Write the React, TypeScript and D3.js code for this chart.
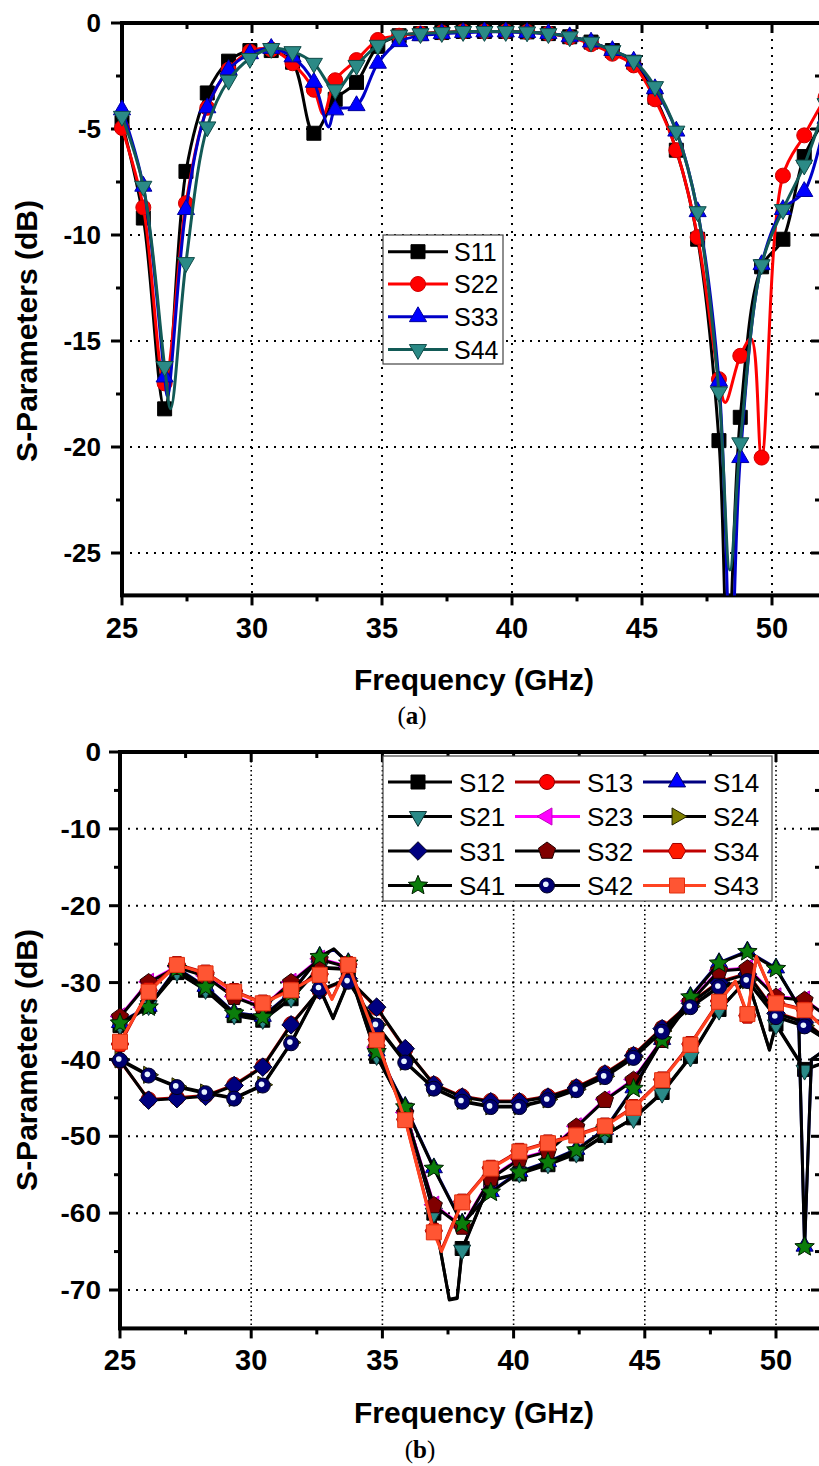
import React from "react";
import * as d3 from "d3";

type Pt = [number, number];

// ---------------- Panel (a): reflection coefficients ----------------
const freqA = [25.0, 25.82, 26.64, 27.46, 28.28, 29.1, 29.92, 30.74, 31.56, 32.38, 33.2, 34.02, 34.84, 35.66, 36.48, 37.3, 38.12, 38.94, 39.76, 40.58, 41.4, 42.22, 43.04, 43.86, 44.68, 45.5, 46.32, 47.14, 47.96, 48.78, 49.6, 50.42, 51.24, 52.06];
const s11 = [-4.7, -9.2, -18.2, -7.0, -3.3, -1.8, -1.3, -1.3, -1.85, -5.2, -3.6, -2.8, -1.1, -0.6, -0.5, -0.45, -0.4, -0.4, -0.4, -0.42, -0.5, -0.65, -0.9, -1.3, -1.85, -3.5, -6.0, -10.2, -19.7, -18.6, -11.5, -10.2, -6.3, -4.5];
const s22 = [-4.95, -8.7, -17.0, -8.5, -4.0, -2.2, -1.35, -1.25, -1.9, -3.15, -2.7, -1.75, -0.8, -0.6, -0.5, -0.45, -0.4, -0.4, -0.4, -0.42, -0.5, -0.68, -1.0, -1.45, -2.0, -3.6, -6.0, -10.1, -16.8, -15.7, -20.5, -7.2, -5.3, -3.5];
const s33 = [-4.1, -7.7, -16.7, -8.8, -4.0, -2.2, -1.45, -1.2, -1.6, -2.8, -4.1, -3.9, -1.9, -0.88, -0.6, -0.5, -0.45, -0.42, -0.42, -0.45, -0.5, -0.65, -0.9, -1.3, -1.8, -3.1, -5.1, -8.9, -16.9, -20.5, -11.4, -8.8, -7.95, -4.5];
const s44 = [-4.4, -7.7, -16.2, -11.3, -4.9, -2.7, -1.67, -1.2, -1.35, -1.9, -3.15, -2.0, -1.05, -0.57, -0.5, -0.45, -0.4, -0.4, -0.4, -0.42, -0.5, -0.65, -0.9, -1.3, -1.78, -3.0, -5.1, -8.9, -17.4, -19.8, -11.4, -8.8, -6.7, -3.8];
// line-only points between symbols (sharp resonances)
const s11Extra: Pt[] = [[48.3, -30]];
const s22Extra: Pt[] = [[32.75, -4.3], [48.2, -17.9], [49.2, -14.9]];
const s33Extra: Pt[] = [[26.75, -17.6], [32.95, -4.9], [48.42, -30]];
const s44Extra: Pt[] = [[26.87, -18.2], [48.38, -25.8]];
const namesA = ["S11", "S22", "S33", "S44"];
const xTicksA = [25, 30, 35, 40, 45, 50];
const yTicksA = [0, -5, -10, -15, -20, -25];

// ---------------- Panel (b): transmission coefficients ----------------
const freqB = [25.0, 26.09, 27.17, 28.26, 29.35, 30.44, 31.52, 32.61, 33.7, 34.78, 35.87, 36.96, 38.04, 39.13, 40.22, 41.31, 42.39, 43.48, 44.57, 45.66, 46.74, 47.83, 48.91, 50.0, 51.09, 52.18];
const s12 = [-35.6, -33.1, -28.7, -31.0, -34.3, -34.9, -32.1, -28.1, -28.3, -39.6, -46.6, -60.0, -64.6, -55.8, -54.9, -53.7, -52.3, -49.9, -47.6, -44.3, -39.6, -33.5, -29.6, -35.4, -41.3, -40.0];
const s13 = [-40.2, -45.2, -45.0, -44.7, -43.3, -40.9, -35.4, -31.1, -29.6, -33.3, -38.7, -43.2, -44.8, -45.4, -45.4, -44.8, -43.6, -41.8, -39.4, -35.9, -32.6, -29.9, -28.8, -33.9, -35.1, -38.0];
const s14 = [-35.2, -33.1, -28.1, -30.5, -33.9, -34.4, -31.3, -26.6, -27.4, -38.9, -46.1, -54.1, -61.3, -57.2, -54.6, -53.3, -51.7, -49.1, -43.7, -37.4, -31.8, -27.4, -25.9, -28.1, -64.3, -38.0];
const s21 = [-35.5, -33.0, -28.6, -30.9, -34.2, -34.8, -32.0, -28.0, -28.2, -39.5, -46.5, -60.0, -64.8, -55.7, -54.8, -53.6, -52.2, -49.8, -47.7, -44.4, -39.7, -33.6, -29.5, -35.5, -41.4, -40.0];
const s23 = [-34.4, -29.9, -27.9, -29.1, -31.8, -33.2, -29.9, -26.9, -27.9, -38.4, -46.9, -58.9, -61.7, -55.4, -52.9, -51.9, -48.7, -45.2, -42.6, -37.4, -32.4, -28.4, -28.1, -31.8, -32.2, -35.0];
const s24 = [-40.0, -42.0, -43.5, -44.3, -45.0, -43.3, -37.8, -30.7, -29.8, -35.5, -40.3, -43.7, -45.4, -46.1, -46.1, -45.2, -43.9, -42.2, -39.7, -36.3, -33.1, -30.5, -29.7, -34.4, -35.6, -38.0];
const s31 = [-40.1, -45.3, -45.1, -44.8, -43.4, -41.0, -35.5, -31.0, -29.5, -33.2, -38.6, -43.3, -44.9, -45.5, -45.5, -44.9, -43.7, -41.9, -39.5, -36.0, -32.7, -30.0, -28.9, -34.0, -35.2, -38.0];
const s32 = [-34.5, -30.0, -28.0, -29.2, -31.9, -33.3, -30.0, -27.0, -28.0, -38.5, -47.0, -59.0, -61.8, -55.5, -53.0, -52.0, -48.8, -45.3, -42.7, -37.5, -32.5, -28.5, -28.2, -31.9, -32.3, -35.0];
const s34 = [-38.0, -31.0, -27.6, -28.7, -31.1, -32.6, -30.9, -28.9, -27.6, -37.4, -47.8, -62.3, -58.5, -54.1, -51.9, -50.8, -49.8, -48.6, -46.2, -42.6, -38.0, -32.4, -34.3, -32.6, -33.5, -37.0];
const s41 = [-35.3, -33.2, -28.2, -30.6, -34.0, -34.5, -31.4, -26.65, -27.5, -39.0, -46.2, -54.2, -61.4, -57.3, -54.7, -53.4, -51.8, -49.2, -43.8, -37.5, -31.9, -27.5, -26.0, -28.2, -64.4, -38.0];
const s42 = [-40.1, -42.1, -43.6, -44.4, -45.1, -43.4, -37.9, -30.8, -29.9, -35.6, -40.4, -43.8, -45.5, -46.2, -46.2, -45.3, -44.0, -42.3, -39.8, -36.4, -33.2, -30.6, -29.8, -34.5, -35.7, -38.0];
const s43 = [-37.7, -31.2, -27.7, -28.8, -31.2, -32.7, -31.0, -29.0, -27.7, -37.5, -47.9, -62.5, -58.6, -54.2, -52.0, -50.9, -49.9, -48.7, -46.3, -42.7, -38.1, -32.5, -34.1, -32.7, -33.6, -37.0];
const s12Extra: Pt[] = [[37.55, -71.2], [37.85, -71.0], [49.75, -38.7]];
const s14Extra: Pt[] = [[33.15, -25.7], [50.85, -33.0], [51.35, -40.0]];
const s21Extra: Pt[] = [[37.55, -71.3], [37.85, -71.1], [49.75, -38.8]];
const s24Extra: Pt[] = [[33.12, -34.6]];
const s34Extra: Pt[] = [[33.08, -32.1], [37.25, -64.8], [48.45, -29.9], [49.25, -26.7]];
const s41Extra: Pt[] = [[33.15, -25.6], [50.85, -33.0], [51.35, -40.0]];
const s42Extra: Pt[] = [[33.12, -34.7]];
const s43Extra: Pt[] = [[33.08, -32.2], [37.25, -65.0], [48.45, -29.8], [49.25, -26.6]];
const namesB = ["S12", "S13", "S14", "S21", "S23", "S24", "S31", "S32", "S34", "S41", "S42", "S43"];
const xTicksB = [25, 30, 35, 40, 45, 50];
const yTicksB = [0, -10, -20, -30, -40, -50, -60, -70];

// ---------------- helpers ----------------
const FONT = "'Liberation Sans', Arial, Helvetica, sans-serif";

function regPoly(n: number, r: number, rot: number): string {
  const pts = d3.range(n).map((i) => {
    const a = rot + (i * 2 * Math.PI) / n;
    return [r * Math.cos(a), r * Math.sin(a)];
  });
  return "M" + pts.map((p) => p[0].toFixed(2) + "," + p[1].toFixed(2)).join("L") + "Z";
}
function starPath(r: number): string {
  const pts = d3.range(10).map((i) => {
    const a = -Math.PI / 2 + (i * Math.PI) / 5;
    const rr = i % 2 === 0 ? r : r * 0.45;
    return [rr * Math.cos(a), rr * Math.sin(a)];
  });
  return "M" + pts.map((p) => p[0].toFixed(2) + "," + p[1].toFixed(2)).join("L") + "Z";
}
function markerD(shape: string, s: number): string {
  switch (shape) {
    case "square":
      return `M${-s / 2},${-s / 2}h${s}v${s}h${-s}Z`;
    case "circle":
    case "dotcircle":
      return d3.symbol(d3.symbolCircle, Math.PI * (s / 2) * (s / 2))() as string;
    case "triUp":
      return regPoly(3, s * 0.66, -Math.PI / 2);
    case "triDown":
      return regPoly(3, s * 0.66, Math.PI / 2);
    case "triLeft":
      return regPoly(3, s * 0.66, Math.PI);
    case "triRight":
      return regPoly(3, s * 0.66, 0);
    case "diamond":
      return regPoly(4, s * 0.62, -Math.PI / 2);
    case "pentagon":
      return regPoly(5, s * 0.6, -Math.PI / 2);
    case "hexagon":
      return regPoly(6, s * 0.58, 0);
    case "star":
      return starPath(s * 0.68);
    default:
      return "";
  }
}

interface Sty {
  line: string;
  fill: string;
  stroke: string;
  shape: string;
  size: number;
}

function Marker({ x, y, st }: { x: number; y: number; st: Sty }) {
  return (
    <g transform={`translate(${x},${y})`}>
      <path d={markerD(st.shape, st.size)} fill={st.fill} stroke={st.stroke} strokeWidth={1} />
      {st.shape === "dotcircle" ? <circle cx={-1.2} cy={-1.2} r={2.8} fill="#e8f4ff" /> : null}
    </g>
  );
}

interface SeriesCfg {
  name: string;
  vals: number[];
  extra: Pt[];
  st: Sty;
}

interface PanelCfg {
  id: string;
  freq: number[];
  x: d3.ScaleLinear<number, number>;
  y: d3.ScaleLinear<number, number>;
  xMax: number;
  yMin: number;
  xTicks: number[];
  xMinor: number;
  yTicks: number[];
  yMinor: number;
  series: SeriesCfg[];
  curve: d3.CurveFactory;
  lineW: number;
  vDash: string;
  vDashW: number;
  hDash: string;
  xLabelBase: number;
  titleBase: number;
  yTitleMid: number;
  yLabelFont: number;
  yLabelScaleY: number;
  legend: React.ReactNode;
}

function Panel({ cfg }: { cfg: PanelCfg }) {
  const { x, y } = cfg;
  const L = x(25);
  const R = x(cfg.xMax);
  const T = y(0);
  const B = y(cfg.yMin);
  const minorX = d3.range(25 + cfg.xMinor, cfg.xMax, cfg.xMinor * 2);
  const minorY = d3.range(-cfg.yMinor, cfg.yMin, -cfg.yMinor * 2);
  const line = d3
    .line<Pt>()
    .x((d) => x(d[0]))
    .y((d) => y(d[1]))
    .curve(cfg.curve);
  const clipId = "clip-" + cfg.id;
  return (
    <g>
      <defs>
        <clipPath id={clipId}>
          <rect x={L} y={T} width={R - L} height={B - T} />
        </clipPath>
      </defs>
      {/* grid */}
      {cfg.xTicks.filter((t) => t > 25).map((t) => (
        <line key={"vg" + t} x1={x(t)} x2={x(t)} y1={T} y2={B} stroke="#000" strokeWidth={cfg.vDashW} strokeDasharray={cfg.vDash} />
      ))}
      {cfg.yTicks.filter((t) => t < 0).map((t) => (
        <line key={"hg" + t} x1={L} x2={R} y1={y(t)} y2={y(t)} stroke="#000" strokeWidth={2} strokeDasharray={cfg.hDash} />
      ))}
      {/* ticks */}
      {cfg.xTicks.map((t) => (
        <g key={"xt" + t}>
          <line x1={x(t)} x2={x(t)} y1={B} y2={B + 10} stroke="#000" strokeWidth={3} />
          <line x1={x(t)} x2={x(t)} y1={T} y2={T + 10} stroke="#000" strokeWidth={3} />
        </g>
      ))}
      {minorX.map((t) => (
        <g key={"xm" + t}>
          <line x1={x(t)} x2={x(t)} y1={B} y2={B + 6} stroke="#000" strokeWidth={3} />
          <line x1={x(t)} x2={x(t)} y1={T} y2={T + 6} stroke="#000" strokeWidth={3} />
        </g>
      ))}
      {cfg.yTicks.map((t) => (
        <g key={"yt" + t}>
          <line x1={L - 11} x2={L} y1={y(t)} y2={y(t)} stroke="#000" strokeWidth={3} />
          <line x1={R - 10} x2={R} y1={y(t)} y2={y(t)} stroke="#000" strokeWidth={3} />
        </g>
      ))}
      {minorY.map((t) => (
        <g key={"ym" + t}>
          <line x1={L - 6} x2={L} y1={y(t)} y2={y(t)} stroke="#000" strokeWidth={3} />
          <line x1={R - 6} x2={R} y1={y(t)} y2={y(t)} stroke="#000" strokeWidth={3} />
        </g>
      ))}
      {/* frame */}
      <rect x={L} y={T} width={R - L} height={B - T} fill="none" stroke="#000" strokeWidth={4} />
      {/* tick labels */}
      {cfg.xTicks.map((t) => (
        <text key={"xl" + t} x={x(t)} y={cfg.xLabelBase} textAnchor="middle" fontFamily={FONT} fontWeight="bold" fontSize={29}>
          {t}
        </text>
      ))}
      {cfg.yTicks.map((t) => (
        <text
          key={"yl" + t}
          transform={`translate(101,${y(t) + cfg.yLabelFont * 0.36 * cfg.yLabelScaleY}) scale(1,${cfg.yLabelScaleY})`}
          textAnchor="end"
          fontFamily={FONT}
          fontWeight="bold"
          fontSize={cfg.yLabelFont}
        >
          {t}
        </text>
      ))}
      {/* titles */}
      <text x={474} y={cfg.titleBase} textAnchor="middle" fontFamily={FONT} fontWeight="bold" fontSize={30}>
        Frequency (GHz)
      </text>
      <text transform={`translate(37,${cfg.yTitleMid}) rotate(-90)`} textAnchor="middle" fontFamily={FONT} fontWeight="bold" fontSize={30}>
        S-Parameters (dB)
      </text>
      {/* data */}
      {cfg.series.map((s) => {
        const pts: Pt[] = cfg.freq.map((f, i) => [f, s.vals[i]] as Pt).concat(s.extra);
        pts.sort((a, b) => a[0] - b[0]);
        return (
          <g key={s.name}>
            <path d={line(pts) as string} fill="none" stroke={s.st.line} strokeWidth={cfg.lineW} clipPath={`url(#${clipId})`} strokeLinejoin="round" />
            {cfg.freq.map((f, i) =>
              s.vals[i] >= cfg.yMin ? <Marker key={i} x={x(f)} y={y(s.vals[i])} st={s.st} /> : null
            )}
          </g>
        );
      })}
      {cfg.legend}
    </g>
  );
}

// ---------------- styles ----------------
const styA: Record<string, Sty> = {
  S11: { line: "#000000", fill: "#000000", stroke: "#000000", shape: "square", size: 14 },
  S22: { line: "#ff0000", fill: "#ff0000", stroke: "#d00000", shape: "circle", size: 15 },
  S33: { line: "#0000c8", fill: "#0000ff", stroke: "#0000a0", shape: "triUp", size: 15 },
  S44: { line: "#125a56", fill: "#2b8a86", stroke: "#0f4a47", shape: "triDown", size: 15 },
};
const styB: Record<string, Sty> = {
  S12: { line: "#000000", fill: "#000000", stroke: "#000000", shape: "square", size: 14 },
  S13: { line: "#b00000", fill: "#ff0000", stroke: "#900000", shape: "circle", size: 15 },
  S14: { line: "#000080", fill: "#0000ff", stroke: "#000060", shape: "triUp", size: 15 },
  S21: { line: "#000000", fill: "#2a8a88", stroke: "#0a3030", shape: "triDown", size: 15 },
  S23: { line: "#ff00ff", fill: "#ff00ff", stroke: "#c000c0", shape: "triLeft", size: 15 },
  S24: { line: "#000000", fill: "#808000", stroke: "#202000", shape: "triRight", size: 15 },
  S31: { line: "#000000", fill: "#000080", stroke: "#000020", shape: "diamond", size: 15 },
  S32: { line: "#000000", fill: "#800000", stroke: "#200000", shape: "pentagon", size: 15 },
  S34: { line: "#c00000", fill: "#ff1a00", stroke: "#a00000", shape: "hexagon", size: 15 },
  S41: { line: "#000000", fill: "#0b7d0b", stroke: "#002000", shape: "star", size: 15 },
  S42: { line: "#000000", fill: "#000070", stroke: "#000020", shape: "dotcircle", size: 15 },
  S43: { line: "#ff4422", fill: "#ff5533", stroke: "#e03010", shape: "square", size: 15 },
};

function LegendA() {
  const rows = [251.7, 284, 316.7, 349.5];
  return (
    <g>
      <rect x={383} y={235} width={120} height={129} fill="#fff" stroke="#444" strokeWidth={1.2} />
      {namesA.map((n, i) => (
        <g key={n}>
          <line x1={388} x2={448} y1={rows[i]} y2={rows[i]} stroke={styA[n].line} strokeWidth={3} />
          <Marker x={418} y={rows[i]} st={styA[n]} />
          <text x={454} y={rows[i] + 9} fontFamily={FONT} fontSize={25}>
            {n}
          </text>
        </g>
      ))}
    </g>
  );
}

function LegendB() {
  const rows = [782, 816.5, 851, 885.5];
  const cols = [
    { x1: 388, x2: 452, m: 418, t: 459 },
    { x1: 515, x2: 580, m: 547, t: 587 },
    { x1: 643, x2: 706, m: 677, t: 713 },
  ];
  return (
    <g>
      <rect x={383} y={756} width={389} height={145} fill="#fff" stroke="#444" strokeWidth={1.2} />
      {namesB.map((n, i) => {
        const r = rows[Math.floor(i / 3)];
        const c = cols[i % 3];
        return (
          <g key={n}>
            <line x1={c.x1} x2={c.x2} y1={r} y2={r} stroke={styB[n].line} strokeWidth={3} />
            <Marker x={c.m} y={r} st={styB[n]} />
            <text x={c.t} y={r + 9.5} fontFamily={FONT} fontSize={26}>
              {n}
            </text>
          </g>
        );
      })}
    </g>
  );
}

const xA = d3.scaleLinear().domain([25, 50]).range([122, 772]);
const yA = d3.scaleLinear().domain([0, -25]).range([23, 553]);
const xB = d3.scaleLinear().domain([25, 50]).range([120, 776]);
const yB = d3.scaleLinear().domain([0, -70]).range([752, 1290]);

const valsA: Record<string, number[]> = { S11: s11, S22: s22, S33: s33, S44: s44 };
const extraA: Record<string, Pt[]> = { S11: s11Extra, S22: s22Extra, S33: s33Extra, S44: s44Extra };
const valsB: Record<string, number[]> = { S12: s12, S13: s13, S14: s14, S21: s21, S23: s23, S24: s24, S31: s31, S32: s32, S34: s34, S41: s41, S42: s42, S43: s43 };
const extraB: Record<string, Pt[]> = { S12: s12Extra, S14: s14Extra, S21: s21Extra, S24: s24Extra, S34: s34Extra, S41: s41Extra, S42: s42Extra, S43: s43Extra };

const panelA: PanelCfg = {
  id: "a",
  freq: freqA,
  x: xA,
  y: yA,
  xMax: (821 - 122) / 26 + 25,
  yMin: -27,
  xTicks: xTicksA,
  xMinor: 2.5,
  yTicks: yTicksA,
  yMinor: 2.5,
  series: namesA.map((n) => ({ name: n, vals: valsA[n], extra: extraA[n], st: styA[n] })),
  curve: d3.curveCatmullRom.alpha(0.5),
  lineW: 3,
  vDash: "2 6",
  vDashW: 2,
  hDash: "2 6",
  xLabelBase: 638,
  titleBase: 690,
  yTitleMid: 331,
  yLabelFont: 26,
  yLabelScaleY: 1,
  legend: <LegendA />,
};

const panelB: PanelCfg = {
  id: "b",
  freq: freqB,
  x: xB,
  y: yB,
  xMax: (821 - 120) / 26.24 + 25,
  yMin: -75,
  xTicks: xTicksB,
  xMinor: 2.5,
  yTicks: yTicksB,
  yMinor: 5,
  series: namesB.map((n) => ({ name: n, vals: valsB[n], extra: extraB[n] || [], st: styB[n] })),
  curve: d3.curveLinear,
  lineW: 3,
  vDash: "1.5 3",
  vDashW: 1.6,
  hDash: "2 6",
  xLabelBase: 1370,
  titleBase: 1423,
  yTitleMid: 1060,
  yLabelFont: 28,
  yLabelScaleY: 0.9,
  legend: <LegendB />,
};

export default function App() {
  return (
    <div style={{ position: "absolute", left: 0, top: 0 }}>
      <svg width={819} height={1466} style={{ display: "block", background: "#fff" }}>
        <rect x={0} y={0} width={819} height={1466} fill="#fff" />
        <Panel cfg={panelA} />
        <Panel cfg={panelB} />
        <text x={412} y={724} textAnchor="middle" fontFamily="'Liberation Serif', 'Times New Roman', serif" fontSize={25}>
          (<tspan fontWeight="bold">a</tspan>)
        </text>
        <text x={420} y={1458} textAnchor="middle" fontFamily="'Liberation Serif', 'Times New Roman', serif" fontSize={25}>
          (<tspan fontWeight="bold">b</tspan>)
        </text>
      </svg>
    </div>
  );
}
